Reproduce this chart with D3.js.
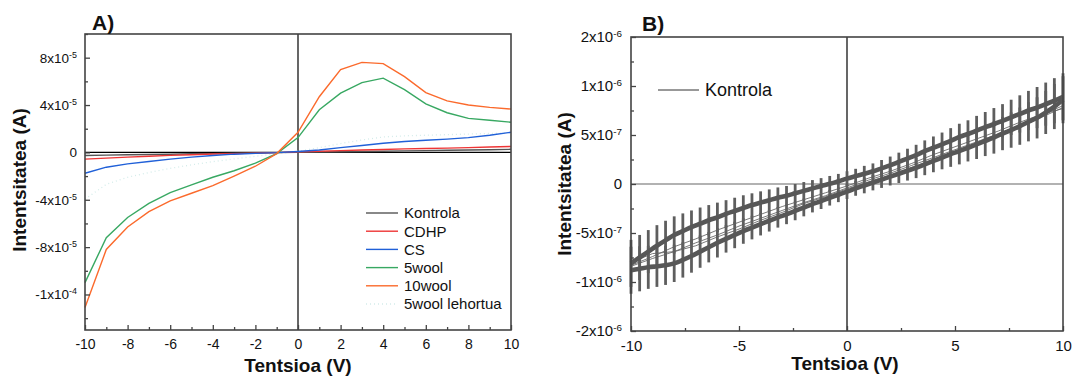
<!DOCTYPE html>
<html>
<head>
<meta charset="utf-8">
<script src="https://cdn.jsdelivr.net/npm/d3@7"></script>
<style>
  body { margin: 0; background: #fff; }
  svg { display: block; }
  text { font-family: "Liberation Sans", Arial, sans-serif; fill: #111; }
</style>
</head>
<body>
<svg id="chart" width="1072" height="376"></svg>
<script>
// ---------- Panel A: I-V curves per sample (current in 1e-5 A) ----------
const voltA = [-10,-9,-8,-7,-6,-5,-4,-3,-2,-1,0,1,2,3,4,5,6,7,8,9,10];
const kontrolaA = [-0.26,-0.23,-0.2,-0.18,-0.15,-0.12,-0.1,-0.07,-0.05,-0.02,0.0,0.03,0.05,0.08,0.1,0.13,0.15,0.18,0.2,0.23,0.26];
const cdhpA     = [-0.57,-0.48,-0.4,-0.32,-0.25,-0.2,-0.14,-0.1,-0.06,-0.02,0.05,0.1,0.15,0.2,0.25,0.3,0.33,0.36,0.4,0.45,0.5];
const csA       = [-1.76,-1.25,-0.97,-0.77,-0.57,-0.4,-0.26,-0.15,-0.08,-0.02,0.08,0.2,0.4,0.58,0.77,0.92,1.02,1.12,1.25,1.45,1.7];
const wool5A    = [-11.0,-7.2,-5.5,-4.3,-3.4,-2.75,-2.1,-1.55,-0.9,-0.1,1.25,3.6,5.0,5.9,6.27,5.3,4.1,3.35,2.87,2.72,2.55];
const wool10A   = [-13.1,-8.2,-6.3,-5.0,-4.1,-3.45,-2.8,-2.0,-1.17,-0.1,1.7,4.7,7.0,7.6,7.5,6.4,5.05,4.35,4.0,3.8,3.66];
const wool5dryA = [-3.95,-2.7,-2.1,-1.7,-1.35,-1.05,-0.78,-0.55,-0.33,-0.12,0.1,0.4,0.75,1.05,1.3,1.4,1.45,1.5,1.55,1.6,1.65];

const seriesNamesA = ["Kontrola","CDHP","CS","5wool","10wool","5wool lehortua"];
const seriesDataA  = [kontrolaA, cdhpA, csA, wool5A, wool10A, wool5dryA];
const seriesColorA = ["#555555","#ee3535","#2060d8","#38a862","#fb6a2c","#d4ecea"];

const tickAxA = [-10,-8,-6,-4,-2,0,2,4,6,8,10];
const minorAxA = [-9,-7,-5,-3,-1,1,3,5,7,9];
const tickAyA = [8e-5,4e-5,0,-4e-5,-8e-5,-1.2e-4];
const tickAyMantA = ["8x10","4x10","0","-4x10","-8x10","-1x10"];
const tickAyExpA  = ["-5","-5","","-5","-5","-4"];
const minorAyA = [1e-4,6e-5,2e-5,-2e-5,-6e-5,-1e-4,-1.4e-4];

// ---------- Panel B: repeated sweeps of the control (current in 1e-7 A) ----------
const voltB = [-10,-9.6,-9.2,-8.8,-8.4,-8,-7.6,-7.2,-6.8,-6.4,-6,-5.6,-5.2,-4.8,-4.4,-4,-3.6,-3.2,-2.8,-2.4,-2,-1.6,-1.2,-0.8,-0.4,0,
               0.4,0.8,1.2,1.6,2,2.4,2.8,3.2,3.6,4,4.4,4.8,5.2,5.6,6,6.4,6.8,7.2,7.6,8,8.4,8.8,9.2,9.6,10];
const upperB = [-8.1,-7.5,-6.9,-6.3,-5.75,-5.2,-4.8,-4.4,-4.05,-3.7,-3.4,-3.05,-2.75,-2.45,-2.15,-1.9,-1.65,-1.4,-1.2,-0.95,-0.7,-0.45,-0.2,0.02,0.28,0.55,
                0.8,1.05,1.3,1.6,1.9,2.25,2.6,2.95,3.35,3.7,4.05,4.4,4.8,5.1,5.45,5.8,6.1,6.45,6.8,7.15,7.5,7.8,8.15,8.5,8.9];
const lowerB = [-8.8,-8.65,-8.5,-8.4,-8.3,-8.1,-7.75,-7.35,-6.9,-6.45,-6.0,-5.6,-5.2,-4.8,-4.45,-4.1,-3.75,-3.4,-3.1,-2.75,-2.4,-2.05,-1.75,-1.4,-1.1,-0.78,
                -0.45,-0.15,0.15,0.45,0.75,1.05,1.35,1.65,2.0,2.35,2.7,3.05,3.35,3.7,4.05,4.4,4.75,5.15,5.5,5.9,6.35,6.75,7.3,7.9,8.6];
const errB = [2.4,2.3,2.2,2.1,2.0,1.9,1.8,1.7,1.65,1.55,1.5,1.4,1.35,1.3,1.2,1.15,1.1,1.05,1.0,0.95,0.9,0.85,0.8,0.8,0.75,0.75,
              0.75,0.8,0.8,0.85,0.9,0.95,1.0,1.05,1.1,1.15,1.2,1.3,1.35,1.4,1.5,1.55,1.65,1.7,1.8,1.9,2.0,2.1,2.2,2.3,2.4];
const sweep1B = [-8.4,-7.6,-6.9,-6.0,-5.2,-4.3,-3.5,-2.7,-1.9,-1.2,-0.4,0.4,1.1,1.9,2.7,3.5,4.3,5.1,6.0,7.0,8.0];
const sweep2B = [-8.3,-7.4,-6.4,-5.6,-4.7,-3.9,-3.1,-2.3,-1.6,-0.9,-0.2,0.6,1.3,2.1,3.0,3.8,4.6,5.4,6.3,7.1,7.7];
const sweep3B = [-8.0,-7.1,-6.9,-6.3,-5.4,-4.6,-3.7,-2.9,-2.0,-1.3,-0.5,0.2,0.9,1.7,2.5,3.3,4.1,4.9,5.8,6.8,7.8];

const tickAxB = [-10,-5,0,5,10];
const minorAxB = [-7.5,-2.5,2.5,7.5];
const tickAyB = [1.5e-6,1e-6,5e-7,0,-5e-7,-1e-6,-1.5e-6];
const tickAyMantB = ["2x10","1x10","5x10","0","-5x10","-1x10","-2x10"];
const tickAyExpB  = ["-6","-6","-7","","-7","-6","-6"];
const minorAyB = [1.25e-6,7.5e-7,2.5e-7,-2.5e-7,-7.5e-7,-1.25e-6];

const svg = d3.select("#chart");
const AXIS = "#444";

function addSup(g, exps) {
  g.selectAll(".tick text").each(function(d, i) {
    if (exps[i]) {
      d3.select(this).append("tspan")
        .attr("dy", "-0.55em").attr("font-size", "0.66em").text(exps[i]);
    }
  });
}

function drawAxes(p) {
  const g = p.g;
  // ticks point into the plot
  const bx = g.append("g").attr("transform", `translate(0,${p.h})`)
    .call(d3.axisBottom(p.x).tickValues(p.tickX).tickSize(-5).tickPadding(9).tickFormat(d => d));
  const bxm = g.append("g").attr("transform", `translate(0,${p.h})`)
    .call(d3.axisBottom(p.x).tickValues(p.minorX).tickSize(-3).tickFormat(""));
  const ly = g.append("g")
    .call(d3.axisLeft(p.y).tickValues(p.tickY).tickSize(-5).tickPadding(p.yPad).tickFormat((d, i) => p.mant[i]));
  const lym = g.append("g")
    .call(d3.axisLeft(p.y).tickValues(p.minorY).tickSize(-3).tickFormat(""));
  [bx, bxm, ly, lym].forEach(a => {
    a.select(".domain").remove();
    a.selectAll(".tick line").attr("stroke", AXIS).attr("stroke-width", 1.3);
  });
  bx.selectAll(".tick text").attr("font-size", p.fsX).attr("fill", "#111")
    .style("font-family", '"Liberation Sans", Arial, sans-serif');
  ly.selectAll(".tick text").attr("font-size", p.fsY).attr("fill", "#111")
    .style("font-family", '"Liberation Sans", Arial, sans-serif');
  addSup(ly, p.exp);
}

function frame(p) {
  p.g.append("rect").attr("x", 0).attr("y", 0).attr("width", p.w).attr("height", p.h)
    .attr("fill", "none").attr("stroke", AXIS).attr("stroke-width", 1.6);
}

// ================= Panel A =================
(function () {
  const L = 85, T = 34, W = 426, H = 296;
  const g = svg.append("g").attr("transform", `translate(${L},${T})`);
  const x = d3.scaleLinear().domain([-10, 10]).range([0, W]);
  const y = d3.scaleLinear().domain([-1.5e-4, 1e-4]).range([H, 0]);
  const p = { g, x, y, w: W, h: H, tickX: tickAxA, minorX: minorAxA, tickY: tickAyA, minorY: minorAyA,
              mant: tickAyMantA, exp: tickAyExpA, fsX: 14, fsY: 13.5, yPad: 8 };

  // zero cross-hair
  g.append("line").attr("x1", 0).attr("x2", W).attr("y1", y(0)).attr("y2", y(0)).attr("stroke", "#000").attr("stroke-width", 1.2);
  g.append("line").attr("x1", x(0)).attr("x2", x(0)).attr("y1", 0).attr("y2", H).attr("stroke", "#000").attr("stroke-width", 1.2);

  const line = d3.line().x((d, i) => x(voltA[i])).y(d => y(d * 1e-5));
  const order = [5, 0, 1, 2, 3, 4];
  order.forEach(k => {
    g.append("path").datum(seriesDataA[k]).attr("d", line)
      .attr("fill", "none").attr("stroke", seriesColorA[k])
      .attr("stroke-width", k === 5 ? 1.3 : 1.4)
      .attr("stroke-dasharray", k === 5 ? "1,3" : null);
  });

  frame(p);
  drawAxes(p);

  // legend
  const lg = svg.append("g").attr("transform", "translate(366,213)");
  seriesNamesA.forEach((n, i) => {
    const yy = i * 18.2;
    lg.append("line").attr("x1", 0).attr("x2", 32).attr("y1", yy).attr("y2", yy)
      .attr("stroke", seriesColorA[i]).attr("stroke-width", i === 5 ? 1.3 : 1.4)
      .attr("stroke-dasharray", i === 5 ? "1,3" : null);
    lg.append("text").attr("x", 38).attr("y", yy).attr("dy", "0.36em").attr("font-size", 15).text(n);
  });

  svg.append("text").attr("x", 92).attr("y", 30).attr("font-size", 21).attr("font-weight", "bold").text("A)");
  svg.append("text").attr("x", L + W / 2).attr("y", 372).attr("text-anchor", "middle")
    .attr("font-size", 19).attr("font-weight", "bold").text("Tentsioa (V)");
  svg.append("text").attr("transform", "translate(26,180) rotate(-90)").attr("text-anchor", "middle")
    .attr("font-size", 19).attr("font-weight", "bold").text("Intentsitatea (A)");
})();

// ================= Panel B =================
(function () {
  const L = 631, T = 37, W = 432, H = 294;
  const g = svg.append("g").attr("transform", `translate(${L},${T})`);
  const x = d3.scaleLinear().domain([-10, 10]).range([0, W]);
  const y = d3.scaleLinear().domain([-1.5e-6, 1.5e-6]).range([H, 0]);
  const p = { g, x, y, w: W, h: H, tickX: tickAxB, minorX: minorAxB, tickY: tickAyB, minorY: minorAyB,
              mant: tickAyMantB, exp: tickAyExpB, fsX: 15, fsY: 15, yPad: 9 };

  g.append("line").attr("x1", 0).attr("x2", W).attr("y1", y(0)).attr("y2", y(0)).attr("stroke", "#666").attr("stroke-width", 1.2);
  g.append("line").attr("x1", x(0)).attr("x2", x(0)).attr("y1", 0).attr("y2", H).attr("stroke", "#000").attr("stroke-width", 1.2);

  const col = "#575757";
  const data = g.append("g");
  // individual sweeps
  const thin = d3.line().x((d, i) => x(voltA[i])).y(d => y(d * 1e-7));
  [sweep1B, sweep2B, sweep3B].forEach(s => {
    data.append("path").datum(s).attr("d", thin).attr("fill", "none").attr("stroke", "#6a6a6a").attr("stroke-width", 0.9);
  });
  // error bars for both branches
  [upperB, lowerB].forEach(br => {
    data.selectAll(null).data(br).enter().append("line")
      .attr("x1", (d, i) => x(voltB[i])).attr("x2", (d, i) => x(voltB[i]))
      .attr("y1", (d, i) => y((d - errB[i]) * 1e-7)).attr("y2", (d, i) => y((d + errB[i]) * 1e-7))
      .attr("stroke", "#5e5e5e").attr("stroke-width", 2.8);
  });
  // mean branches
  const thick = d3.line().x((d, i) => x(voltB[i])).y(d => y(d * 1e-7)).curve(d3.curveMonotoneX);
  [upperB, lowerB].forEach(br => {
    data.append("path").datum(br).attr("d", thick).attr("fill", "none").attr("stroke", col).attr("stroke-width", 4.6);
  });

  frame(p);
  drawAxes(p);

  g.append("line").attr("x1", 27).attr("x2", 68).attr("y1", 53).attr("y2", 53).attr("stroke", "#333").attr("stroke-width", 1);
  g.append("text").attr("x", 74).attr("y", 53).attr("dy", "0.36em").attr("font-size", 18).text("Kontrola");

  svg.append("text").attr("x", 642).attr("y", 31).attr("font-size", 21).attr("font-weight", "bold").text("B)");
  svg.append("text").attr("x", L + W / 2 - 2).attr("y", 370).attr("text-anchor", "middle")
    .attr("font-size", 19).attr("font-weight", "bold").text("Tentsioa (V)");
  svg.append("text").attr("transform", "translate(571,184) rotate(-90)").attr("text-anchor", "middle")
    .attr("font-size", 19).attr("font-weight", "bold").text("Intentsitatea (A)");
})();
</script>
</body>
</html>
